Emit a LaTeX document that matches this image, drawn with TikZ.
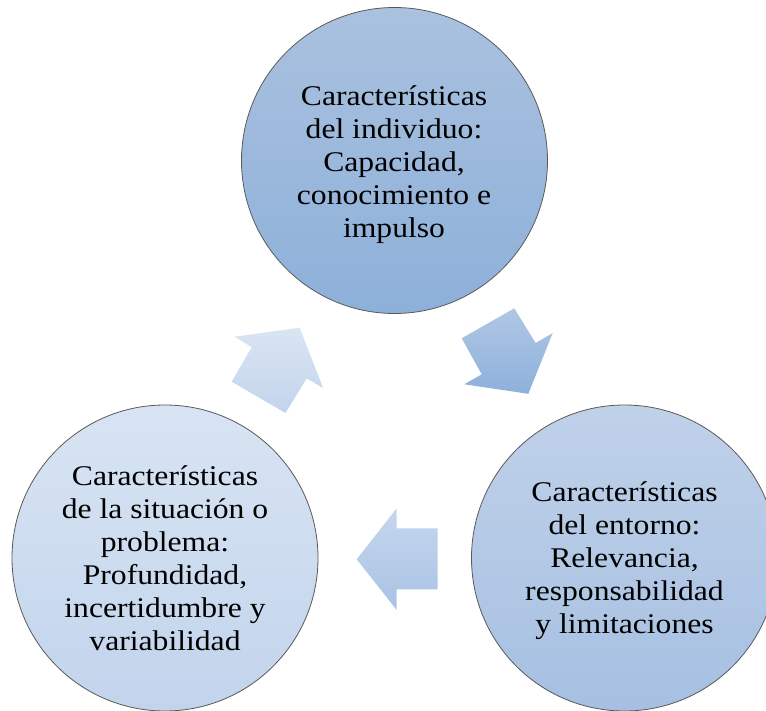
\documentclass[tikz,border=0pt]{standalone}
\usepackage{fontspec}
\setmainfont{Liberation Serif}[FakeStretch=1.11]
\begin{document}
\begin{tikzpicture}[x=1pt,y=-1pt,
  bubble/.style={circle,minimum size=306pt,inner sep=0pt,draw=black!65,line width=0.8pt},
  txt/.style={align=center,font=\fontsize{28.5pt}{33pt}\selectfont,text=black},
  blockarrow/.style={draw=none}]
\useasboundingbox (0,0) rectangle (766,711);
\clip (0,0) rectangle (766,711);
\definecolor{topA}{HTML}{AAC1DF}\definecolor{topB}{HTML}{8DB0D9}
\definecolor{rgtA}{HTML}{C0D1E9}\definecolor{rgtB}{HTML}{A6C0E2}
\definecolor{lftA}{HTML}{D8E4F3}\definecolor{lftB}{HTML}{C2D4EC}
\definecolor{arA}{HTML}{B0C7E4}\definecolor{arB}{HTML}{8DB1DB}
\definecolor{alA}{HTML}{C6D7EE}\definecolor{alB}{HTML}{A9C2E4}
\definecolor{auA}{HTML}{DAE5F3}\definecolor{auB}{HTML}{C2D4EC}
% circles
\node[bubble,top color=topA,bottom color=topB] (ctop) at (394.5,160.5) {};
\node[bubble,top color=rgtA,bottom color=rgtB] (cright) at (624.5,558) {};
\node[bubble,top color=lftA,bottom color=lftB] (cleft) at (165,558) {};
% block arrows
\path[blockarrow,top color=arA,bottom color=arB]
  (514.3,308.3) -- (461.7,338.3) -- (481.7,374.3) -- (464.2,384.3) -- (528.3,393.8)
  -- (552.7,333.1) -- (535.6,343.0) -- cycle;
\path[blockarrow,top color=alA,bottom color=alB]
  (356.7,559.3) -- (396.7,508.3) -- (396.7,528.3) -- (437.7,528.3) -- (437.7,589.3)
  -- (396.7,589.3) -- (396.7,610) -- cycle;
\path[blockarrow,top color=auA,bottom color=auB]
  (234.6,336.7) -- (299.7,327.7) -- (323,388) -- (306.7,378.3) -- (285.5,413)
  -- (231.7,381.7) -- (251.7,347.2) -- cycle;
% texts
\node[txt] (ttop) at (394,165) {Características\\del individuo:\\Capacidad,\\conocimiento e\\impulso};
\node[txt] (tright) at (624.5,560.5) {Características\\del entorno:\\Relevancia,\\responsabilidad\\y limitaciones};
\node[txt] (tleft) at (165,558.5) {Características\\de la situación o\\problema:\\Profundidad,\\incertidumbre y\\variabilidad};
\end{tikzpicture}
\end{document}
